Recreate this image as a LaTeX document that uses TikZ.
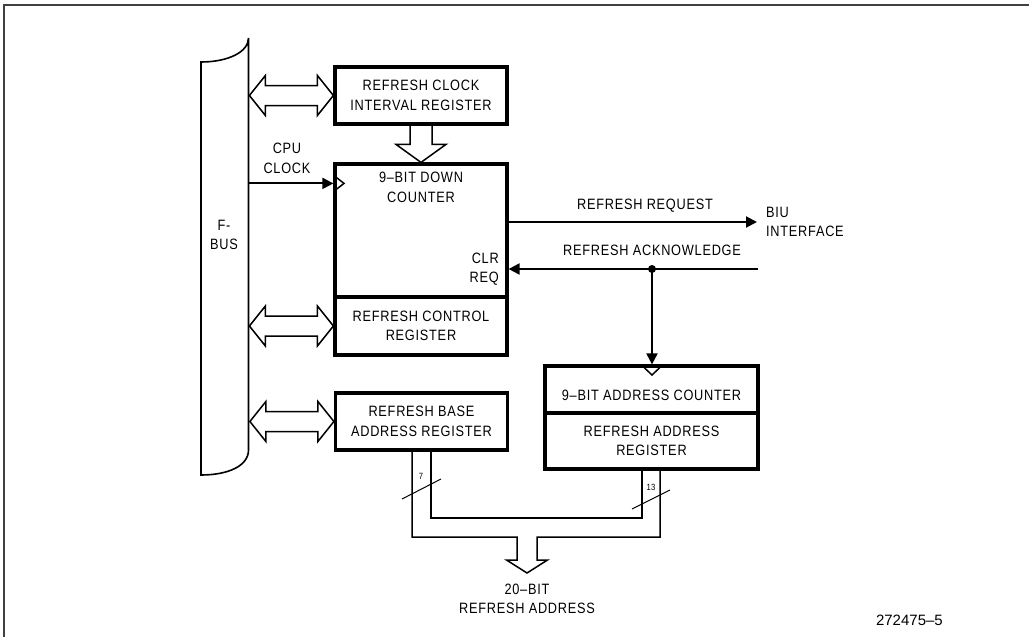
\documentclass[tikz,border=0pt]{standalone}
\usepackage{fontspec}
\setmainfont{Liberation Sans}[FakeStretch=0.85,LetterSpace=5]
\newfontfamily\numfont{Liberation Sans}
\usetikzlibrary{arrows.meta,calc}
\begin{document}
\begin{tikzpicture}[x=1pt,y=-1pt,
  txt/.style={font=\fontsize{15}{19.5}\selectfont,align=center,inner sep=0pt},
  box/.style={draw,line width=3.2pt,minimum width=172pt,inner sep=0pt,txt},
  sig/.style={line width=2pt},
  tipa/.style={-{Triangle[length=11pt,width=11pt]}},
  hollow/.style={line width=1.5pt,line join=miter},
  busl/.style={line width=1.5pt},
  slash/.style={line width=1pt},
  dbl/.pic={\draw[hollow] (0,0) -- ++(-16,-20) -- ++(0,10) -- ++(-52,0) -- ++(0,-10) -- ++(-16,20) -- ++(16,20) -- ++(0,-10) -- ++(52,0) -- ++(0,10) -- cycle;}]
\useasboundingbox (0,0) rectangle (1029,637);
\draw[line width=1.6pt,black!75] (4,637) -- (4,5) -- (1029,5);

% F-bus
\draw[line width=1.6pt] (201,62) .. controls (228,62) and (248.5,52) .. (248.5,38) -- (248.5,450) .. controls (248.5,466) and (228,475) .. (201,475) -- cycle;
\node[txt] (fbus) at (224,235) {F-\\BUS};
\coordinate (busr) at (248.5,0);

% boxes
\node[box,minimum height=57pt] (rcir) at (421,95.5) {REFRESH CLOCK\\INTERVAL REGISTER};
\node[box,minimum height=133pt] (cnt) at (421,230.5) {};
\node[box,minimum height=58pt] (rcr) at (421,326) {REFRESH CONTROL\\REGISTER};
\node[box,minimum height=57pt] (rbar) at (421.5,421.5) {REFRESH BASE\\ADDRESS REGISTER};
\node[box,minimum width=213pt,minimum height=47pt] (acnt) at (651.5,389.5) {};
\node[box,minimum width=213pt,minimum height=56pt] (rar) at (651.5,441) {REFRESH ADDRESS\\REGISTER};

\node[txt] (cntlbl) at (421,187.5) {9–BIT DOWN\\COUNTER};
\node[txt,align=right,anchor=east] (clr) at (499,269) {CLR\\REQ};
\node[txt] (acntlbl) at (651.5,395) {9–BIT ADDRESS COUNTER};

% double hollow arrows to F-bus
\pic at (rcir.west) {dbl};
\pic at (rcr.west) {dbl};
\pic at (rbar.west) {dbl};

% hollow arrow interval register -> counter
\draw[hollow] ($(rcir.south)+(-11,0)$) |- ($(cnt.north)+(-25,-18)$) -- (cnt.north) -- ++(25,-18) -| ($(rcir.south)+(11,0)$);

% CPU clock
\coordinate (clkin) at ($(cnt.north west)+(0,21)$);
\draw[sig,tipa] (busr |- clkin) -- (clkin);
\draw[line width=1.5pt] ($(clkin)+(1.6,-7)$) -- ++(9,7) -- ++(-9,7);
\node[txt] (cpulbl) at (287,158.5) {CPU\\CLOCK};

% refresh request
\coordinate (reqout) at ($(cnt.north east)+(0,59.6)$);
\coordinate (biureq) at (757,222);
\draw[sig,tipa] (reqout) -- (biureq);
\node[txt] (reqlbl) at (645,206) {REFRESH REQUEST};
\node[txt,align=left,anchor=west] (biu) at (766,222) {BIU\\INTERFACE};

% refresh acknowledge
\coordinate (ackin) at ($(cnt.north east)+(0,106.6)$);
\coordinate (biuack) at (758,269);
\coordinate (ackdot) at (652,269);
\draw[sig,tipa] (biuack) -- (ackin);
\fill (ackdot) circle (4);
\draw[sig,tipa] (ackdot) -- (acnt.north -| ackdot);
\draw[line width=1.5pt] ($(acnt.north -| ackdot)+(-9.5,1.6)$) -- ++(9.5,9) -- ++(9.5,-9);
\node[txt] (acklbl) at (652,250) {REFRESH ACKNOWLEDGE};

% address bus
\coordinate (outtip) at (527,573);
\draw[busl] ($(rbar.south)+(-9.5,0)$) |- (517,537) -- (517,560) -- (506.5,560) -- (outtip) -- (547.5,560) -- (537,560) -- (537,537) -| ($(rar.south)+(8.5,0)$);
\draw[busl] ($(rbar.south)+(9.5,0)$) |- (642,518) -- ($(rar.south)+(-9.5,0)$);
\draw[slash] (402,499) -- (441,479);
\node[font=\fontsize{9}{9}\selectfont,inner sep=0pt] (n7) at (421,476) {7};
\draw[slash] (632,509) -- (670,490);
\node[font=\fontsize{9}{9}\selectfont,inner sep=0pt] (n13) at (651,487) {13};
\node[txt] (outlbl) at (527,599) {20–BIT\\REFRESH ADDRESS};

\node[font=\numfont\fontsize{15}{15}\selectfont,anchor=east,inner sep=0pt] (fig) at (943,620) {272475–5};
\end{tikzpicture}
\end{document}
